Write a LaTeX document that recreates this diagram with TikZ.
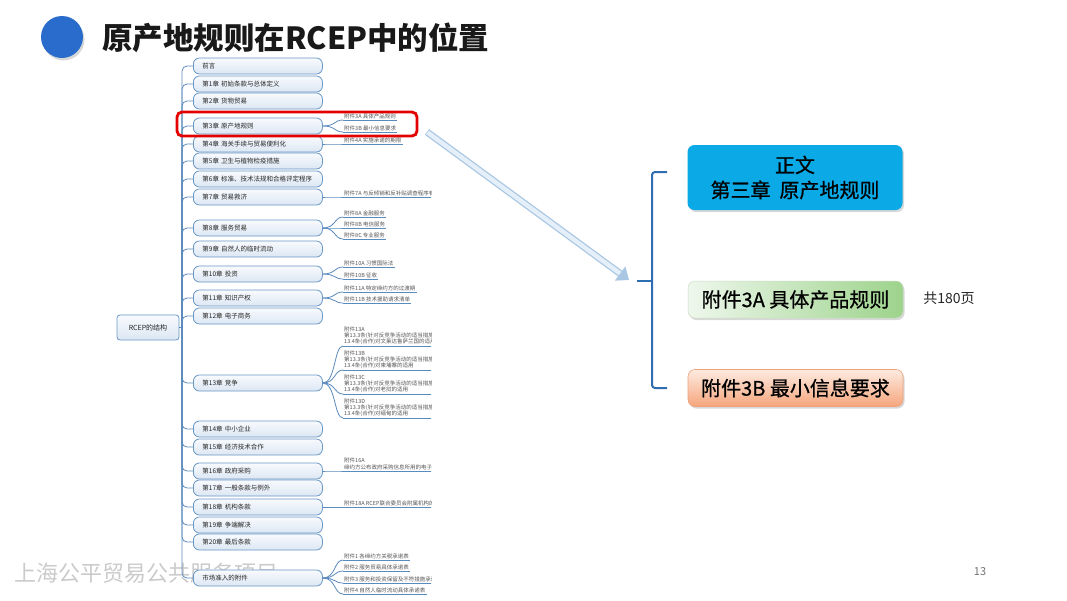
\documentclass[tikz,border=0pt]{standalone}
\usepackage{fontspec}
\setmainfont{Noto Sans CJK SC}
\newfontfamily\cjkmed[FakeBold=0.7]{Noto Sans CJK SC}
\usetikzlibrary{shadows,arrows.meta}
\definecolor{connc}{HTML}{5B8BBD}
\definecolor{chapborder}{HTML}{6A98C6}
\definecolor{chaptop}{HTML}{F8FAFD}
\definecolor{chapbot}{HTML}{DCE7F3}
\definecolor{titleblue}{HTML}{2A6CCB}
\definecolor{cyanbox}{HTML}{0BA9E6}
\definecolor{greenL}{HTML}{EEF7EC}
\definecolor{greenR}{HTML}{9DD38B}
\definecolor{orangeT}{HTML}{FDEBE0}
\definecolor{orangeB}{HTML}{F5A57C}
\definecolor{orangeD}{HTML}{EDA27A}
\definecolor{bracec}{HTML}{2F6DB3}
\definecolor{arrowout}{HTML}{A9C6E2}
\definecolor{arrowin}{HTML}{E4EFF9}
\definecolor{annexc}{HTML}{555555}
\definecolor{wmark}{HTML}{CBCBCB}
\begin{document}
\begin{tikzpicture}[x=1pt,y=-1pt,
  connline/.style={draw=connc,line width=0.8pt},
  chap/.style={draw=chapborder,line width=0.8pt,top color=chaptop,bottom color=chapbot,
    rounded corners=6pt,minimum width=129pt,minimum height=16pt,inner xsep=9pt,inner ysep=0pt,
    text width=111pt,align=left,anchor=west,font=\fontsize{6.5}{7}\selectfont,text=black!85},
  anx/.style={anchor=south west,inner xsep=1pt,inner ysep=1.2pt,align=left,
    font=\fontsize{5.5}{6.2}\selectfont,text=annexc},
  bigbox/.style={rounded corners=7pt,minimum width=215pt,align=center,
    font=\cjkmed\fontsize{20}{25}\selectfont,text=black,
    drop shadow={shadow xshift=1.5pt,shadow yshift=-2pt,opacity=0.3}},
  bracel/.style={draw=bracec,line width=2pt}
]
\useasboundingbox[fill=white] (0,0) rectangle (1067,600);

% title
\fill[black!30,opacity=0.5] (63.5,39.5) circle (21);
\node[circle,fill=titleblue,minimum size=42pt,inner sep=0pt] (dot) at (62,37) {};
\node[anchor=west,font=\fontsize{30.5}{31}\selectfont\bfseries,text=black!90,inner sep=0pt] (title) at (102,38) {原产地规则在RCEP中的位置};

% watermark and page number
\node[anchor=west,font=\fontsize{22}{22}\selectfont,text=wmark,inner sep=0pt] (wm) at (14,573) {上海公平贸易公共服务项目};
\node[font=\fontsize{11}{11}\selectfont,text=black!55,inner sep=0pt] (pg) at (980,572) {13};

% root
\node[draw=chapborder,line width=0.8pt,top color=chaptop,bottom color=chapbot,rounded corners=3pt,
  minimum width=62pt,minimum height=25pt,font=\fontsize{7}{8}\selectfont,text=black!85] (root) at (148,327.5) {RCEP的结构};
\coordinate (trunk) at (182,327.5);
\draw[connline] (root.east) -- (trunk);

% chapters
\node[chap] (c0) at (193,66) {前言};
\node[chap] (c1) at (193,84) {第1章 初始条款与总体定义};
\node[chap] (c2) at (193,101) {第2章 货物贸易};
\node[chap] (c3) at (193,126) {第3章 原产地规则};
\node[chap] (c4) at (193,144) {第4章 海关手续与贸易便利化};
\node[chap] (c5) at (193,161) {第5章 卫生与植物检疫措施};
\node[chap] (c6) at (193,179) {第6章 标准、技术法规和合格评定程序};
\node[chap] (c7) at (193,197) {第7章 贸易救济};
\node[chap] (c8) at (193,228) {第8章 服务贸易};
\node[chap] (c9) at (193,249) {第9章 自然人的临时流动};
\node[chap] (c10) at (193,274) {第10章 投资};
\node[chap] (c11) at (193,298) {第11章 知识产权};
\node[chap] (c12) at (193,316) {第12章 电子商务};
\node[chap] (c13) at (193,383) {第13章 竞争};
\node[chap] (c14) at (193,429) {第14章 中小企业};
\node[chap] (c15) at (193,447) {第15章 经济技术合作};
\node[chap] (c16) at (193,471) {第16章 政府采购};
\node[chap] (c17) at (193,488) {第17章 一般条款与例外};
\node[chap] (c18) at (193,507) {第18章 机构条款};
\node[chap] (c19) at (193,525) {第19章 争端解决};
\node[chap] (c20) at (193,542) {第20章 最后条款};
\node[chap] (cm) at (193,578) {市场准入的附件};

\foreach \n in {c0,c1,c2,c3,c4,c5,c6,c7,c8,c9,c10,c11,c12,c13,c14,c15,c16,c17,c18,c19,c20,cm}
  \draw[connline,rounded corners=5pt] (trunk) |- (\n.west);

% annexes
\begin{scope}
\clip (0,0) rectangle (431,600);
\node[anx] (a3A) at (343,120) {附件3A 具体产品规则};
\node[anx] (a3B) at (343,132) {附件3B 最小信息要求};
\node[anx] (a4A) at (343,144) {附件4A 实施承诺的期限};
\node[anx] (a7A) at (343,197) {附件7A 与反倾销和反补贴调查程序有关的做法};
\node[anx] (a8A) at (343,217) {附件8A 金融服务};
\node[anx] (a8B) at (343,228) {附件8B 电信服务};
\node[anx] (a8C) at (343,239) {附件8C 专业服务};
\node[anx] (a10A) at (343,267) {附件10A 习惯国际法};
\node[anx] (a10B) at (343,279) {附件10B 征收};
\node[anx] (a11A) at (343,292) {附件11A 特定缔约方的过渡期};
\node[anx] (a11B) at (343,303) {附件11B 技术援助请求清单};
\node[anx] (a13A) at (343,346) {附件13A\\第13.3条(针对反竞争活动的适当措施)和\\13.4条(合作)对文莱达鲁萨兰国的适用};
\node[anx] (a13B) at (343,370) {附件13B\\第13.3条(针对反竞争活动的适当措施)和\\13.4条(合作)对柬埔寨的适用};
\node[anx] (a13C) at (343,394) {附件13C\\第13.3条(针对反竞争活动的适当措施)和\\13.4条(合作)对老挝的适用};
\node[anx] (a13D) at (343,418) {附件13D\\第13.3条(针对反竞争活动的适当措施)和\\13.4条(合作)对缅甸的适用};
\node[anx] (a16A) at (343,471) {附件16A\\缔约方公布政府采购信息所用的电子或纸质方式};
\node[anx] (a18A) at (343,507) {附件18A RCEP联合委员会附属机构的职能};
\node[anx] (m1) at (343,560) {附件1 各缔约方关税承诺表};
\node[anx] (m2) at (343,571) {附件2 服务贸易具体承诺表};
\node[anx] (m3) at (343,583) {附件3 服务和投资保留及不符措施承诺表};
\node[anx] (m4) at (343,594) {附件4 自然人临时流动具体承诺表};
\foreach \a in {a3A,a3B,a4A,a7A,a8A,a8B,a8C,a10A,a10B,a11A,a11B,a13A,a13B,a13C,a13D,a16A,a18A,m1,m2,m3,m4}
  \draw[connline] (\a.south west) -- (\a.south east);
\foreach \c/\a in {c3/a3A,c3/a3B,c4/a4A,c7/a7A,c8/a8A,c8/a8B,c8/a8C,c10/a10A,c10/a10B,c11/a11A,c11/a11B,
  c13/a13A,c13/a13B,c13/a13C,c13/a13D,c16/a16A,c18/a18A,cm/m1,cm/m2,cm/m3,cm/m4}
  \draw[connline] (\c.east) .. controls +(13,0) and +(-9,0) .. (\a.south west);
\end{scope}

% highlight
\node[draw=red!90!black,line width=2.8pt,rounded corners=5pt,minimum width=240pt,minimum height=24pt] (hl) at (297,124) {};

% arrow
\coordinate (arrS) at (427,132);
\coordinate (arrE) at (629,280);
\draw[line width=7pt,draw=arrowout,-{Triangle[length=11pt,width=17pt]}] (arrS) -- (arrE);
\draw[line width=4.5pt,draw=arrowin,shorten >=11pt,shorten <=0.8pt] (arrS) -- (arrE);

% brace
\coordinate (brT) at (667,172);
\coordinate (brB) at (667,388);
\coordinate (brC) at (652,281);
\coordinate (brM) at (637,281);
\draw[bracel,rounded corners=3pt] (brT) -| (brC) |- (brB);
\draw[bracel] (brM) -- (brC);

% right boxes
\node[bigbox,fill=cyanbox,minimum height=65pt] (b1) at (795,177.5) {正文\\第三章\ \ 原产地规则};
\node[bigbox,left color=greenL,right color=greenR,draw=greenR!80!black!40,line width=0.5pt,minimum height=37pt] (b2) at (795.5,299.5) {附件3A 具体产品规则};
\node[bigbox,top color=orangeT,bottom color=orangeB,draw=orangeD,line width=0.6pt,minimum height=37pt] (b3) at (795.5,388) {附件3B 最小信息要求};
\node[font=\fontsize{14}{14}\selectfont,text=black!85,inner sep=0pt] (pages) at (949,298) {共180页};
\end{tikzpicture}
\end{document}
